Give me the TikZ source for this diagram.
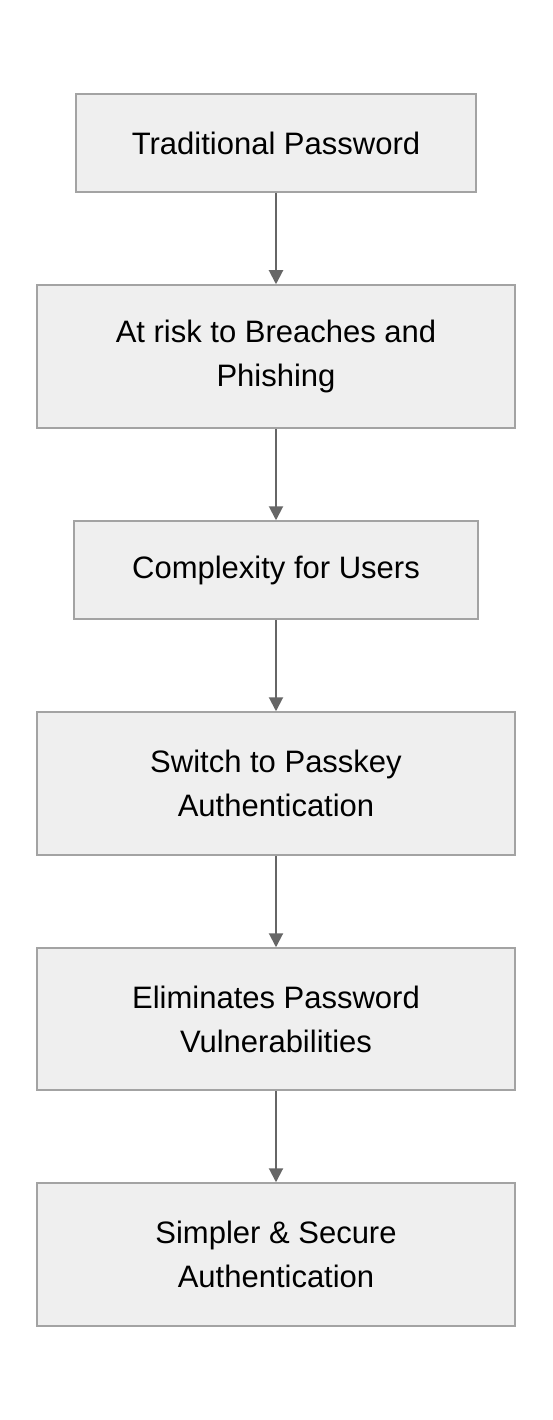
\documentclass[tikz,border=0pt]{standalone}
\usepackage{fontspec}
\setmainfont{Liberation Sans}
\usetikzlibrary{arrows.meta}
\definecolor{boxfill}{HTML}{EFEFEF}
\definecolor{boxline}{HTML}{A3A3A3}
\definecolor{arrowc}{HTML}{666666}
\begin{document}
\begin{tikzpicture}[x=1pt,y=-1pt,
  stepbox/.style={draw=boxline, fill=boxfill, line width=1.5pt, inner sep=0pt,
    minimum height=#1, align=center, font=\fontsize{31}{44}\selectfont, text=black},
  flow/.style={draw=arrowc, line width=2pt, -{Triangle[width=14pt,length=14pt]}}]
\useasboundingbox (0,0) rectangle (552,1420);
\fill[white] (0,0) rectangle (552,1420);
\node[stepbox=98pt, minimum width=400pt] (a) at (276,143) {Traditional Password};
\node[stepbox=143pt, minimum width=478pt] (b) at (276,356.5) {At risk to Breaches and\\Phishing};
\node[stepbox=98pt, minimum width=404pt] (c) at (276,570) {Complexity for Users};
\node[stepbox=143pt, minimum width=478pt] (d) at (276,783.5) {Switch to Passkey\\Authentication};
\node[stepbox=142pt, minimum width=478pt] (e) at (276,1019) {Eliminates Password\\Vulnerabilities};
\node[stepbox=143pt, minimum width=478pt] (f) at (276,1254.5) {Simpler \& Secure\\Authentication};
\draw[flow] (a) -- (b);
\draw[flow] (b) -- (c);
\draw[flow] (c) -- (d);
\draw[flow] (d) -- (e);
\draw[flow] (e) -- (f);
\end{tikzpicture}
\end{document}
